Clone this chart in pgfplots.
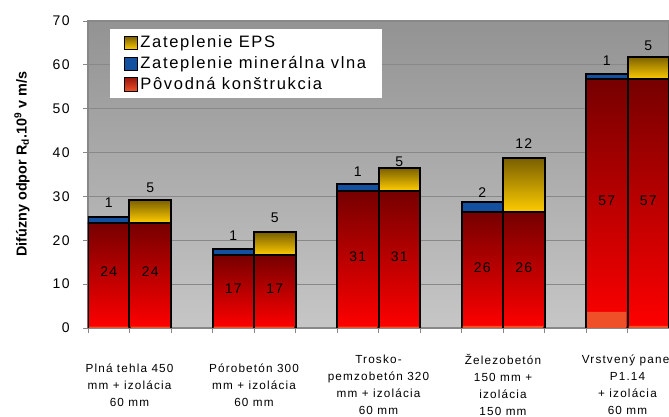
\documentclass[border=0pt]{standalone}
\usepackage{pgfplots}
\pgfplotsset{compat=1.18}
\usepackage{fontspec}
\setmainfont{Liberation Sans}
\newfontfamily\spaced[LetterSpace=10]{Liberation Sans}

\definecolor{bgtop}{HTML}{939393}
\definecolor{bgbot}{HTML}{C6C6C6}
\definecolor{gridc}{HTML}{888888}
\definecolor{redtop}{HTML}{760000}
\definecolor{redbot}{HTML}{FF0000}
\definecolor{yeltop}{HTML}{7A6000}
\definecolor{yelbot}{HTML}{FFCC00}
\definecolor{bluebar}{HTML}{1450A0}
\definecolor{orangebar}{HTML}{F05028}

\pgfplotsset{
  frame/.style={scale only axis,width=435.75pt,height=230.25pt,
    xmin=0,xmax=14,ymin=0,ymax=70,at={(0pt,0pt)},anchor=south west},
  segment/.style={draw=black,line width=1.5pt},
  base/.style={segment,top color=redtop,bottom color=redbot},
  wool/.style={segment,fill=bluebar},
  eps/.style={segment,top color=yeltop,bottom color=yelbot},
}
% one small stacked axis per bar, so that every segment gets its own gradient
% #1 = x position, #2 = original wall, #3 = insulation, #4 = insulation style
\newcommand{\stackbar}[4]{%
\begin{axis}[frame,hide axis,ybar stacked,bar width=1]
\addplot[base] coordinates {(#1,#2)};
\addplot[#4] coordinates {(#1,#3)};
\end{axis}}

\begin{document}
\begin{tikzpicture}
\begin{axis}[frame,
  axis background/.style={top color=bgtop,bottom color=bgbot},
  axis line style={gridc,line width=0.8pt},
  ymajorgrids,grid style={gridc,line width=0.7pt},
  tick align=outside,tick pos=left,major tick length=3.75pt,
  tick style={gridc,line width=0.6pt},
  ytick={0,10,...,70},
  /pgf/number format/assume math mode=true,
  yticklabel style={font=\fontsize{10.5}{12}\selectfont\spaced,xshift=-6.5pt},
  xtick={0,...,14},
  xticklabels={,{Plná tehla 450\\mm + izolácia\\60 mm},,,
    {Pórobetón 300\\mm + izolácia\\60 mm},,,
    {Trosko-\\pemzobetón 320\\mm + izolácia\\60 mm},,,
    {Železobetón\\150 mm +\\izolácia\\150 mm},,,
    {Vrstvený panel\\P1.14\\+ izolácia\\60 mm},},
  xticklabel style={font=\fontsize{8.8}{12.75}\selectfont\spaced,align=center,
    anchor=center,yshift=-39pt},
  ylabel={Difúzny odpor R\textsubscript{d}.10\textsuperscript{9} v m/s},
  every axis y label/.style={at={(axis description cs:-0.1136,0.534)},
    rotate=90,anchor=center,font=\fontsize{10.8}{13}\selectfont\bfseries},
  legend style={at={(0.038,0.974)},anchor=north west,draw=none,fill=white,
    font=\fontsize{12.4}{14}\selectfont\spaced,inner xsep=10pt,inner ysep=3pt,
    row sep=1pt,legend cell align=left},
  legend image code/.code={\draw[#1,line width=0.6pt] (0pt,-5pt) rectangle (10pt,5pt);},
]
\addlegendimage{draw=black,top color=yeltop,bottom color=yelbot}
\addlegendentry{Zateplenie EPS}
\addlegendimage{draw=black,fill=bluebar}
\addlegendentry{Zateplenie minerálna vlna}
\addlegendimage{draw=black,top color=redtop!70!orangebar,bottom color=orangebar}
\addlegendentry{Pôvodná konštrukcia}
\end{axis}

\stackbar{0.5}{24.0}{1.4}{wool}
\stackbar{1.5}{24.0}{5.2}{eps}
\stackbar{3.5}{16.6}{1.3}{wool}
\stackbar{4.5}{16.6}{5.2}{eps}
\stackbar{6.5}{31.3}{1.5}{wool}
\stackbar{7.5}{31.3}{5.2}{eps}
\stackbar{9.5}{26.4}{2.4}{wool}
\stackbar{10.5}{26.4}{12.3}{eps}
\stackbar{12.5}{56.7}{1.3}{wool}
\stackbar{13.5}{56.7}{5.2}{eps}

\begin{axis}[frame,hide axis]
\addplot[ybar,bar width=0.95,bar shift=0pt,fill=orangebar,draw=none] coordinates {
(0.5,0.3) (1.5,0.3) (3.5,0.3) (4.5,0.3) (6.5,0.3) (7.5,0.3)
(9.5,0.5) (10.5,0.5) (12.5,3.7) (13.5,0.5)};
% value labels
\addplot[draw=none,mark=none,nodes near coords,point meta=explicit symbolic,
  nodes near coords align=center,
  every node near coord/.append style={font=\fontsize{10.5}{12}\selectfont\spaced,text=black}]
  coordinates {
(0.5,12.8)[24] (1.5,12.8)[24] (3.5,8.9)[17] (4.5,8.9)[17] (6.5,16.2)[31] (7.5,16.2)[31]
(9.5,13.7)[26] (10.5,13.7)[26] (12.5,28.9)[57] (13.5,28.9)[57]
(0.5,28.5)[1] (1.5,31.9)[5] (3.5,21.0)[1] (4.5,25.2)[5] (6.5,35.6)[1] (7.5,38.0)[5]
(9.5,30.9)[2] (10.5,42.1)[12] (12.5,61.0)[1] (13.5,64.3)[5]};
\end{axis}
\pgfresetboundingbox
\useasboundingbox (-66pt,-66.75pt) rectangle (435.75pt,246pt);
\end{tikzpicture}
\end{document}
